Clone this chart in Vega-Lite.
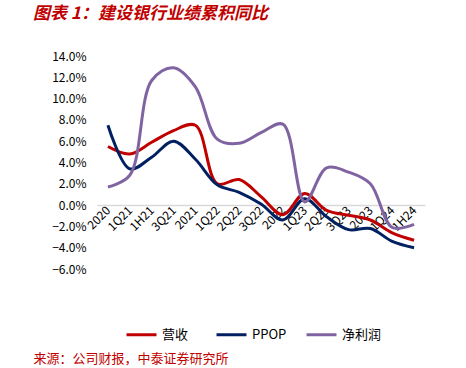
{
  "$schema": "https://vega.github.io/schema/vega-lite/v6.json",
  "width": 328,
  "height": 213,
  "autosize": "none",
  "padding": {"left": 97, "top": 56, "right": 41, "bottom": 99},
  "background": "white",
  "title": {
    "text": "图表 1：建设银行业绩累积同比",
    "anchor": "start",
    "frame": "group",
    "dx": -64,
    "offset": 27,
    "font": "Noto Sans CJK SC",
    "fontSize": 17,
    "fontWeight": "bold",
    "fontStyle": "italic",
    "color": "#C00000"
  },
  "data": {
    "values": [
      {"q": "2020", "s": "营收", "v": 5.5},
      {"q": "1Q21", "s": "营收", "v": 4.8},
      {"q": "1H21", "s": "营收", "v": 5.9},
      {"q": "3Q21", "s": "营收", "v": 7.0},
      {"q": "2021", "s": "营收", "v": 7.5},
      {"q": "1Q22", "s": "营收", "v": 2.0},
      {"q": "2Q22", "s": "营收", "v": 2.4},
      {"q": "3Q22", "s": "营收", "v": 0.8},
      {"q": "2022", "s": "营收", "v": -0.9},
      {"q": "1Q23", "s": "营收", "v": 1.1},
      {"q": "2Q23", "s": "营收", "v": -0.5},
      {"q": "3Q23", "s": "营收", "v": -0.95},
      {"q": "2023", "s": "营收", "v": -1.4},
      {"q": "1Q24", "s": "营收", "v": -2.6},
      {"q": "1H24", "s": "营收", "v": -3.3},
      {"q": "2020", "s": "PPOP", "v": 7.5},
      {"q": "1Q21", "s": "PPOP", "v": 3.4},
      {"q": "1H21", "s": "PPOP", "v": 4.5},
      {"q": "3Q21", "s": "PPOP", "v": 6.0},
      {"q": "2021", "s": "PPOP", "v": 4.3},
      {"q": "1Q22", "s": "PPOP", "v": 1.9},
      {"q": "2Q22", "s": "PPOP", "v": 1.2},
      {"q": "3Q22", "s": "PPOP", "v": 0.1},
      {"q": "2022", "s": "PPOP", "v": -1.4},
      {"q": "1Q23", "s": "PPOP", "v": 0.6},
      {"q": "2Q23", "s": "PPOP", "v": -1.1},
      {"q": "3Q23", "s": "PPOP", "v": -2.3},
      {"q": "2023", "s": "PPOP", "v": -2.2},
      {"q": "1Q24", "s": "PPOP", "v": -3.4},
      {"q": "1H24", "s": "PPOP", "v": -4.0},
      {"q": "2020", "s": "净利润", "v": 1.7},
      {"q": "1Q21", "s": "净利润", "v": 2.8},
      {"q": "1H21", "s": "净利润", "v": 11.7},
      {"q": "3Q21", "s": "净利润", "v": 12.9},
      {"q": "2021", "s": "净利润", "v": 11.1},
      {"q": "1Q22", "s": "净利润", "v": 6.2},
      {"q": "2Q22", "s": "净利润", "v": 5.8},
      {"q": "3Q22", "s": "净利润", "v": 6.8},
      {"q": "2022", "s": "净利润", "v": 7.6},
      {"q": "1Q23", "s": "净利润", "v": 0.3},
      {"q": "2Q23", "s": "净利润", "v": 3.5},
      {"q": "3Q23", "s": "净利润", "v": 3.1},
      {"q": "2023", "s": "净利润", "v": 2.0},
      {"q": "1Q24", "s": "净利润", "v": -2.1},
      {"q": "1H24", "s": "净利润", "v": -1.8}
    ]
  },
  "mark": {"type": "line", "interpolate": "catmull-rom", "strokeWidth": 3},
  "encoding": {
    "x": {
      "field": "q",
      "type": "ordinal",
      "sort": null,
      "scale": {"paddingInner": 0, "paddingOuter": 0.5},
      "axis": {
        "title": "来源：公司财报，中泰证券研究所",
        "titleFont": "Noto Sans CJK SC",
        "titleFontSize": 13,
        "titleFontWeight": "normal",
        "titleColor": "#C00000",
        "titleAnchor": "start",
        "titleAlign": "left",
        "titleBaseline": "top",
        "titleX": -64,
        "titleY": 147,
        "offset": -64,
        "domainColor": "#D9D9D9",
        "domainWidth": 1.5,
        "ticks": false,
        "labelAngle": -45,
        "labelAlign": "right",
        "labelBaseline": "middle",
        "labelPadding": 3,
        "labelFont": "Noto Sans CJK SC",
        "labelFontSize": 12,
        "labelColor": "#000000"
      }
    },
    "y": {
      "field": "v",
      "type": "quantitative",
      "scale": {"domain": [-6, 14], "nice": false},
      "axis": {
        "title": null,
        "values": [-6, -4, -2, 0, 2, 4, 6, 8, 10, 12, 14],
        "labelExpr": "format(datum.value, '.1f') + '%'",
        "grid": false,
        "domain": false,
        "ticks": false,
        "labelPadding": 11,
        "labelFont": "Noto Sans CJK SC",
        "labelFontSize": 12,
        "labelColor": "#000000"
      }
    },
    "color": {
      "field": "s",
      "type": "nominal",
      "sort": ["营收", "PPOP", "净利润"],
      "scale": {"domain": ["营收", "PPOP", "净利润"], "range": ["#C00000", "#002060", "#8064A2"]},
      "legend": {
        "title": null,
        "orient": "none",
        "legendX": 28,
        "legendY": 262,
        "direction": "horizontal",
        "symbolType": "stroke",
        "symbolSize": 900,
        "symbolStrokeWidth": 3,
        "labelFont": "Noto Sans CJK SC",
        "labelFontSize": 13,
        "labelColor": "#000000",
        "labelOffset": 4,
        "columnPadding": 8,
        "gridAlign": "all"
      }
    }
  },
  "config": {"view": {"stroke": null}}
}
